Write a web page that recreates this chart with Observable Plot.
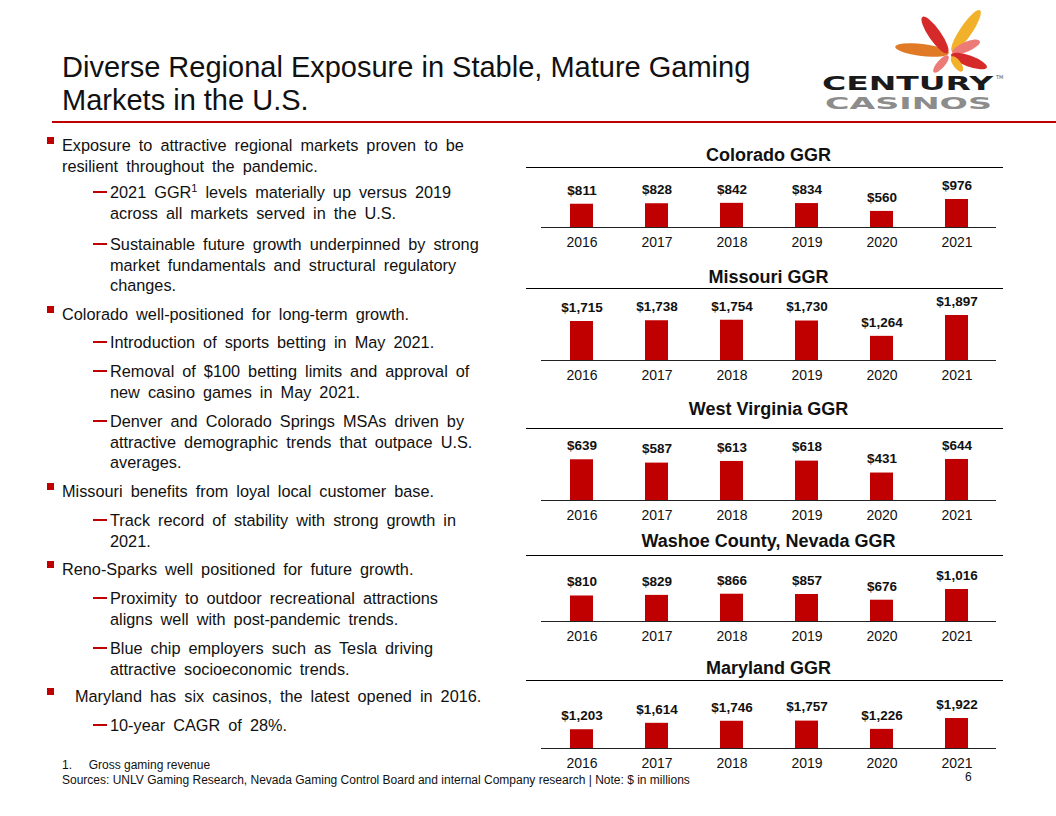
<!DOCTYPE html>
<html><head><meta charset="utf-8">
<script src="https://cdn.jsdelivr.net/npm/d3@7"></script>
<script src="https://cdn.jsdelivr.net/npm/@observablehq/plot@0.6"></script>
<style>
body{margin:0;width:1056px;height:816px;position:relative;background:#fff;font-family:"Liberation Sans",Arial,sans-serif;overflow:hidden;color:#111}
#title{position:absolute;left:62px;top:51px;font-size:29px;line-height:33px;white-space:nowrap;word-spacing:0px}
#redline{position:absolute;left:52px;top:121px;width:1004px;height:2px;background:#c00000}
.p{position:absolute;font-size:16.3px;line-height:20.5px;white-space:nowrap;word-spacing:3.5px}
.b{left:62px}
.b::before{content:"";position:absolute;left:-15px;top:2px;width:7px;height:7px;background:#c00000}
.b.m{left:75px}
.b.m::before{left:-28px}
.s{left:110px}
.s::before{content:"";position:absolute;left:-17px;top:9px;width:14px;height:2px;background:#c00000}
.ctitle{position:absolute;left:530px;width:477px;text-align:center;font-weight:bold;font-size:18px;line-height:20px}
.crule{position:absolute;left:526px;width:477px;height:1px;background:#000}
.chart{position:absolute;left:520px}
.chart svg{overflow:visible}
#foot1{position:absolute;left:62px;top:758px;font-size:12px;white-space:nowrap}
#foot2{position:absolute;left:62px;top:773px;font-size:12px;white-space:nowrap}
#page{position:absolute;left:965px;top:770px;font-size:12px}
#logo{position:absolute;left:800px;top:0}
</style></head>
<body>
<div id="title">Diverse Regional Exposure in Stable, Mature Gaming<br>Markets in the U.S.</div>
<div id="redline"></div>
<svg id="logo" width="256" height="120">
  <g>
    <ellipse cx="122" cy="50" rx="27" ry="6" fill="#e07a26" transform="rotate(187 122 50)"/>
    <ellipse cx="135" cy="35" rx="22" ry="6" fill="#d62a2a" transform="rotate(-125 135 35)"/>
    <ellipse cx="166" cy="31" rx="25" ry="6" fill="#f2b12a" transform="rotate(-56 166 31)"/>
    <ellipse cx="166" cy="47" rx="15" ry="5" fill="#ec7b78" transform="rotate(-23 166 47)"/>
    <ellipse cx="169" cy="61" rx="19" ry="5.5" fill="#d62a2a" transform="rotate(20 169 61)"/>
    <ellipse cx="141" cy="64" rx="11" ry="4" fill="#ec7b78" transform="rotate(131 141 64)"/>
    <ellipse cx="157" cy="64" rx="9" ry="4" fill="#f2b12a" transform="rotate(54 157 64)"/>
  </g>
  <text x="22" y="90" font-family="DejaVu Sans" font-weight="bold" font-size="19" textLength="171" lengthAdjust="spacingAndGlyphs" fill="#1a1a1a">CENTURY</text>
  <text x="196" y="79" font-family="DejaVu Sans" font-size="5" fill="#555">TM</text>
  <text x="25" y="109" font-family="DejaVu Sans" font-weight="bold" font-size="15" textLength="167" lengthAdjust="spacingAndGlyphs" fill="#8c8c8c">CASINOS</text>
</svg>

<div class="p b" style="top:135px">Exposure to attractive regional markets proven to be<br>resilient throughout the pandemic.</div>
<div class="p s" style="top:182px">2021 GGR<sup style="font-size:11px;line-height:0">1</sup> levels materially up versus 2019<br>across all markets served in the U.S.</div>
<div class="p s" style="top:234px">Sustainable future growth underpinned by strong<br>market fundamentals and structural regulatory<br>changes.</div>
<div class="p b" style="top:304px">Colorado well-positioned for long-term growth.</div>
<div class="p s" style="top:332px">Introduction of sports betting in May 2021.</div>
<div class="p s" style="top:361px">Removal of $100 betting limits and approval of<br>new casino games in May 2021.</div>
<div class="p s" style="top:411px">Denver and Colorado Springs MSAs driven by<br>attractive demographic trends that outpace U.S.<br>averages.</div>
<div class="p b" style="top:481px">Missouri benefits from loyal local customer base.</div>
<div class="p s" style="top:510px">Track record of stability with strong growth in<br>2021.</div>
<div class="p b" style="top:559px">Reno-Sparks well positioned for future growth.</div>
<div class="p s" style="top:588px">Proximity to outdoor recreational attractions<br>aligns well with post-pandemic trends.</div>
<div class="p s" style="top:638px">Blue chip employers such as Tesla driving<br>attractive socioeconomic trends.</div>
<div class="p b m" style="top:686px">Maryland has six casinos, the latest opened in 2016.</div>
<div class="p s" style="top:715px">10-year CAGR of 28%.</div>

<div id="foot1">1.&nbsp;&nbsp;&nbsp;&nbsp;&nbsp;Gross gaming revenue</div>
<div id="foot2">Sources: UNLV Gaming Research, Nevada Gaming Control Board and internal Company research | Note: $ in millions</div>
<div id="page">6</div>

<div id="charts"></div>
<script>
// ---- data ----
const years = ["2016", "2017", "2018", "2019", "2020", "2021"];
const colorado = [811, 828, 842, 834, 560, 976];
const missouri = [1715, 1738, 1754, 1730, 1264, 1897];
const westVirginia = [639, 587, 613, 618, 431, 644];
const washoe = [810, 829, 866, 857, 676, 1016];
const maryland = [1203, 1614, 1746, 1757, 1226, 1922];
const chartTitles = ["Colorado GGR", "Missouri GGR", "West Virginia GGR", "Washoe County, Nevada GGR", "Maryland GGR"];
const seriesList = [colorado, missouri, westVirginia, washoe, maryland];

// ---- layout (positions / scale domains) ----
const layout = [
  {titleY: 155, ruleY: 167, baseY: 227, yMin: 0,   yMax: 2091},
  {titleY: 277, ruleY: 288, baseY: 360, yMin: 530, yMax: 2718},
  {titleY: 409, ruleY: 428, baseY: 500, yMin: 0,   yMax: 1130},
  {titleY: 541, ruleY: 555, baseY: 621, yMin: 0,   yMax: 2095},
  {titleY: 668, ruleY: 680, baseY: 748, yMin: 0,   yMax: 4359}
];

const fmt = d3.format(",");
const root = document.getElementById("charts");

seriesList.forEach((values, i) => {
  const L = layout[i];
  const data = years.map((y, j) => ({year: y, value: values[j]}));

  const t = document.createElement("div");
  t.className = "ctitle";
  t.style.top = (L.titleY - 10) + "px";
  t.textContent = chartTitles[i];
  document.body.appendChild(t);

  const r = document.createElement("div");
  r.className = "crule";
  r.style.top = L.ruleY + "px";
  document.body.appendChild(r);

  const H = L.baseY - L.ruleY;
  const chart = Plot.plot({
    width: 490,
    height: H + 28,
    marginLeft: 21,
    marginRight: 14,
    marginTop: 0,
    marginBottom: 28,
    style: {fontFamily: "'Liberation Sans', Arial, sans-serif", fontSize: "14px", color: "#111", background: "transparent", overflow: "visible"},
    x: {domain: years, paddingInner: 0.7, paddingOuter: 0.35, label: null, tickSize: 0, tickPadding: 10},
    y: {domain: [L.yMin, L.yMax], axis: null},
    marks: [
      Plot.barY(data, {x: "year", y1: () => L.yMin, y2: "value", fill: "#c00000"}),
      Plot.ruleY([L.yMin], {stroke: "#222", strokeWidth: 1}),
      Plot.text(data, {x: "year", y: "value", text: d => "$" + fmt(d.value), dy: -14, fontWeight: "bold", fontSize: 13.5, fill: "#111"})
    ]
  });
  const wrap = document.createElement("div");
  wrap.className = "chart";
  wrap.style.top = L.ruleY + "px";
  wrap.appendChild(chart);
  root.appendChild(wrap);
});
</script>
</body></html>
